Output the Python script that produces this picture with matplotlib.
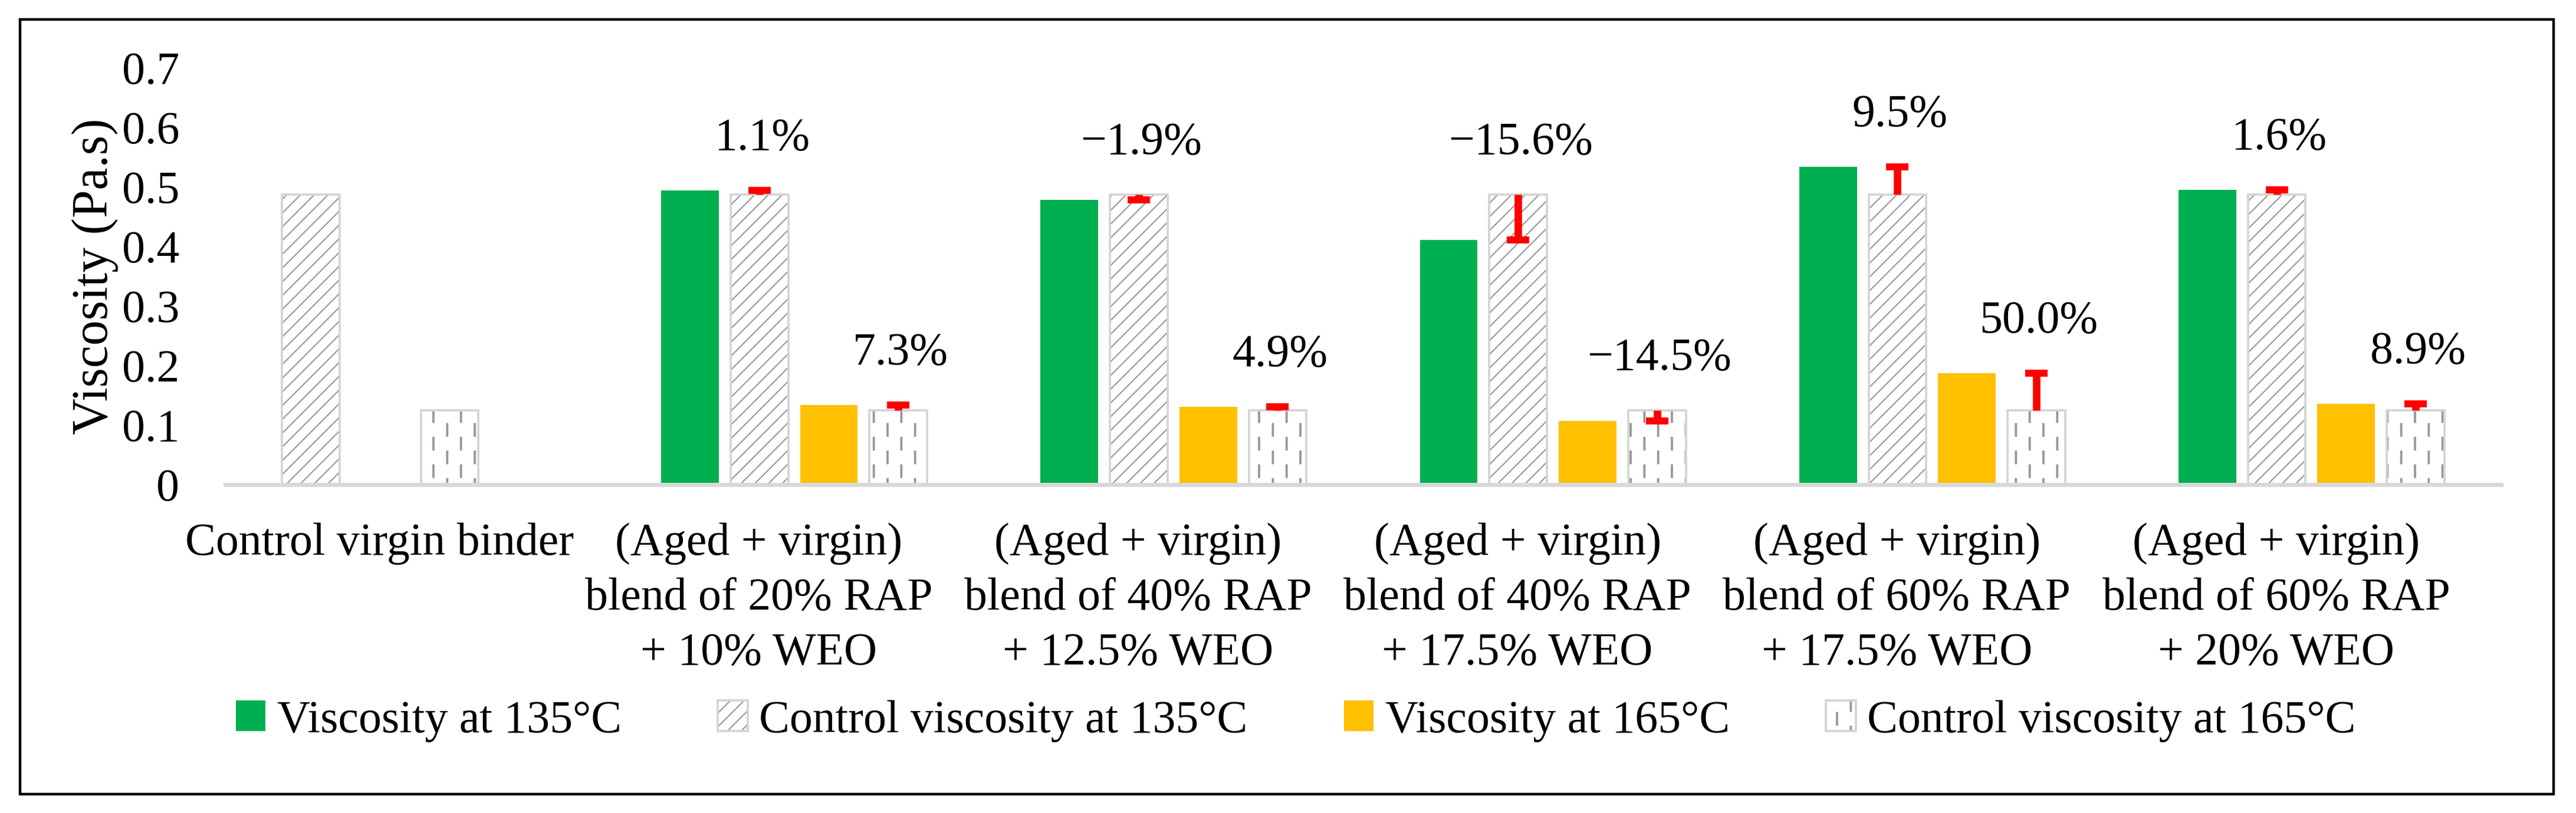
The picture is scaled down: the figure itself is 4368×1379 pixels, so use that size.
import numpy as np
import matplotlib
matplotlib.use("Agg")
import matplotlib.pyplot as plt
import matplotlib.hatch as mhatch
import matplotlib.transforms as mtrans
from matplotlib.path import Path
from matplotlib.patches import Rectangle
from matplotlib.legend_handler import HandlerTuple

# ---------------- data ----------------
categories = [
    "Control virgin binder",
    "(Aged + virgin)\nblend of 20% RAP\n+ 10% WEO",
    "(Aged + virgin)\nblend of 40% RAP\n+ 12.5% WEO",
    "(Aged + virgin)\nblend of 40% RAP\n+ 17.5% WEO",
    "(Aged + virgin)\nblend of 60% RAP\n+ 17.5% WEO",
    "(Aged + virgin)\nblend of 60% RAP\n+ 20% WEO",
]
# blends only (categories 1..5)
visc_135 = [0.494, 0.478, 0.411, 0.534, 0.495]
visc_165 = [0.134, 0.131, 0.107, 0.1875, 0.136]
# controls for all six categories
control_135 = [0.487, 0.487, 0.487, 0.487, 0.487, 0.487]
control_165 = [0.125, 0.125, 0.125, 0.125, 0.125, 0.125]
change_135 = ["1.1%", "\u22121.9%", "\u221215.6%", "9.5%", "1.6%"]
change_165 = ["7.3%", "4.9%", "\u221214.5%", "50.0%", "8.9%"]
series_labels = ["Viscosity at 135\u00b0C", "Control viscosity at 135\u00b0C",
                 "Viscosity at 165\u00b0C", "Control viscosity at 165\u00b0C"]
yticks = [0, 0.1, 0.2, 0.3, 0.4, 0.5, 0.6, 0.7]
ytick_labels = ["0", "0.1", "0.2", "0.3", "0.4", "0.5", "0.6", "0.7"]


# ---------------- custom dashed-vertical hatch (replaces '|') ----------------
class VerticalDashHatch(mhatch.HatchPatternBase):
    def __init__(self, hatch, density):
        n = hatch.count('|')
        segs = []
        if n:
            ncols, nrows, dash = 6, 3, 0.15
            for i in range(ncols):
                xc = (i + 0.5) / ncols
                shift = 0.5 / nrows if i % 2 else 0.0
                for xx in (xc - 0.006, xc + 0.006):
                    for j in range(nrows):
                        y0 = (0.05 + j / nrows + shift) % 1.0
                        y1 = y0 + dash
                        if y1 <= 1.0:
                            segs.append((xx, y0, y1))
                        else:
                            segs.append((xx, y0, 1.0))
                            segs.append((xx, 0.0, y1 - 1.0))
        self.segs = segs
        self.num_vertices = 2 * len(segs)

    def set_vertices_and_codes(self, vertices, codes):
        for k, (xx, y0, y1) in enumerate(self.segs):
            vertices[2 * k] = (xx, y0)
            vertices[2 * k + 1] = (xx, y1)
            codes[2 * k] = Path.MOVETO
            codes[2 * k + 1] = Path.LINETO


mhatch._hatch_types[mhatch._hatch_types.index(mhatch.VerticalHatch)] = VerticalDashHatch

plt.rcParams['font.family'] = ['Liberation Serif', 'DejaVu Serif']
plt.rcParams['hatch.linewidth'] = 1.1

DPI = 140
W, H = 4368, 1379
fig = plt.figure(figsize=(W / DPI, H / DPI), dpi=DPI)
ax = fig.add_axes([382 / W, 1 - 822 / H, (4241 - 382) / W, (822 - 115) / H])

GREEN = "#00B050"
YELLOW = "#FFC000"
HATCH_C = "#989898"
EDGE_C = "#d4d4d4"

x = np.arange(len(categories))
xb = x[1:]
w = 0.152
slot = 0.183
off = [-1.5 * slot, -0.5 * slot, 0.5 * slot, 1.5 * slot]

x_c135 = x + off[1]
x_c165 = x + off[3]
x_c135[0] = x[0] + off[0]
x_c165[0] = x[0] + off[2]

b_g = ax.bar(xb + off[0], visc_135, w, color=GREEN, linewidth=0, zorder=2)
h1 = ax.bar(x_c135, control_135, w, color="white", edgecolor=HATCH_C,
            linewidth=0, hatch="//", zorder=2)
o1 = ax.bar(x_c135, control_135, w, fill=False, edgecolor=EDGE_C,
            linewidth=1.9, zorder=2)
b_y = ax.bar(xb + off[2], visc_165, w, color=YELLOW, linewidth=0, zorder=2)
h2 = ax.bar(x_c165, control_165, w, color="white", edgecolor=HATCH_C,
            linewidth=0, hatch="|", zorder=2)
o2 = ax.bar(x_c165, control_165, w, fill=False, edgecolor=EDGE_C,
            linewidth=1.9, zorder=2)

# difference "error bars" and percentage labels
for k, i in enumerate(xb):
    for xc, c, s, lab in ((x_c135[i], control_135[i], visc_135[k], change_135[k]),
                          (x_c165[i], control_165[i], visc_165[k], change_165[k])):
        ax.vlines(xc, c, s, colors="red", linewidth=6.5, zorder=4)
        ax.plot([xc], [s], marker="_", ms=19.5, mew=6.2, color="red", zorder=4)
        ax.annotate(lab, xy=(xc, max(c, s)), xytext=(2, 45),
                    textcoords="offset points", ha="center", va="center",
                    fontsize=40, color="black")

ax.set_xlim(-0.5, 5.5)
ax.set_ylim(0, 0.7)
ax.set_yticks(yticks)
ax.set_yticklabels(ytick_labels, fontsize=40)
ax.set_xticks(x)
ax.set_xticklabels(categories, fontsize=40, linespacing=1.4)
ax.tick_params(axis="both", length=0)
ax.tick_params(axis="y", pad=40)
ax.tick_params(axis="x", pad=33)
shift = mtrans.ScaledTranslation(-60 / DPI, 0, fig.dpi_scale_trans)
for lbl in ax.get_xticklabels():
    lbl.set_transform(lbl.get_transform() + shift)

for sp in ("left", "right", "top"):
    ax.spines[sp].set_visible(False)
ax.spines["bottom"].set_color("#d9d9d9")
ax.spines["bottom"].set_linewidth(3.6)
ax.spines["bottom"].set_zorder(3)

ax.set_ylabel("Viscosity (Pa.s)", fontsize=44)
ax.yaxis.set_label_coords(-0.047, 0.5)

fig.legend([b_g, (h1, o1), b_y, (h2, o2)], series_labels,
           loc="center", bbox_to_anchor=(0.503, 1 - 1223 / H), ncol=4,
           frameon=False, fontsize=40, handlelength=0.65, handleheight=0.65,
           handletextpad=0.25, columnspacing=2.1,
           handler_map={tuple: HandlerTuple(ndivide=1, pad=0)})

fig.add_artist(Rectangle((34 / W, 1 - 1347 / H), (4330 - 34) / W, (1347 - 33) / H,
                         transform=fig.transFigure, fill=False,
                         edgecolor="black", linewidth=2.3))

fig.savefig("out.png", dpi=DPI, facecolor="white")
